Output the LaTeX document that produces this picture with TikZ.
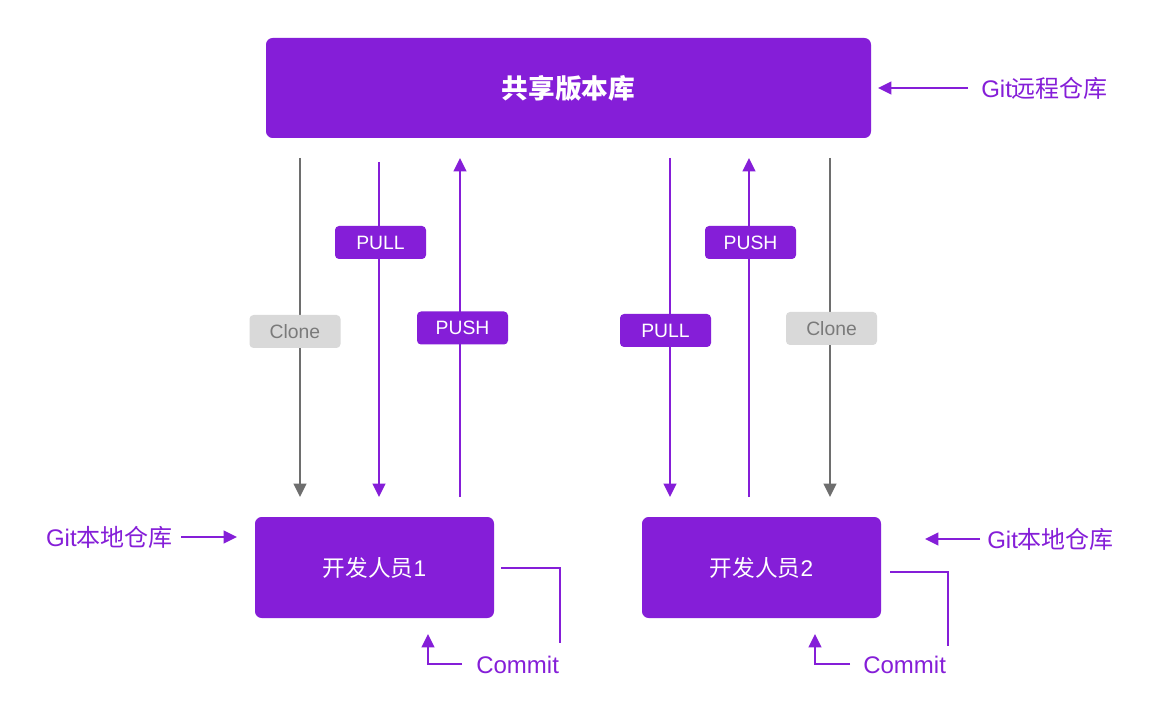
\documentclass[tikz,border=0pt]{standalone}
\usepackage{fontspec}
\setmainfont{Liberation Sans}
\newfontfamily\cjk{Noto Sans CJK SC}
\usetikzlibrary{arrows.meta}
\definecolor{pur}{HTML}{851ED8}
\definecolor{gline}{HTML}{6E6E6E}
\definecolor{gbox}{HTML}{D9D9D9}
\definecolor{gtext}{HTML}{7A7A7A}
\tikzset{
  bigbox/.style={fill=pur, rounded corners=5pt, text=white, font=\fontsize{20}{22}\selectfont\cjk\bfseries, inner sep=0pt},
  devbox/.style={fill=pur, rounded corners=5pt, text=white, minimum width=179.25pt, minimum height=75.75pt, font=\fontsize{17}{19}\selectfont, inner sep=0pt},
  tagp/.style={fill=pur, rounded corners=3pt, text=white, minimum width=68.25pt, minimum height=24.75pt, font=\fontsize{14.5}{16}\selectfont, inner sep=0pt},
  tagg/.style={fill=gbox, rounded corners=3pt, text=gtext, minimum width=68.25pt, minimum height=24.75pt, font=\fontsize{14.5}{16}\selectfont, inner sep=0pt},
  plink/.style={draw=pur, line width=1.4pt, -{Triangle[length=10pt,width=9.5pt]}},
  glink/.style={draw=gline, line width=1.4pt, -{Triangle[length=10pt,width=9.5pt]}},
  pline/.style={draw=pur, line width=1.4pt},
  note/.style={text=pur, font=\fontsize{18}{20}\selectfont, inner sep=0pt},
}
\begin{document}
\begin{tikzpicture}[x=0.75pt,y=-0.75pt]
\useasboundingbox[fill=white] (0,0) rectangle (1149,716);
% main boxes
\node[bigbox, minimum width=453.75pt, minimum height=75pt] (repo) at (568.5,88) {共享版本库};
\node[devbox] (dev1) at (374.5,567.5) {{\cjk 开发人员}1};
\node[devbox] (dev2) at (761.5,567.5) {{\cjk 开发人员}2};
% coordinates for vertical connectors
\coordinate (c1t) at (300,158); \coordinate (c1b) at (300,497);
\coordinate (l1t) at (379,162); \coordinate (l1b) at (379,497);
\coordinate (p1b) at (460,497); \coordinate (p1t) at (460,158);
\coordinate (l2t) at (670,158); \coordinate (l2b) at (670,497);
\coordinate (p2b) at (749,497); \coordinate (p2t) at (749,158);
\coordinate (c2t) at (830,158); \coordinate (c2b) at (830,497);
\draw[glink] (c1t) -- (c1b);
\draw[plink] (l1t) -- (l1b);
\draw[plink] (p1b) -- (p1t);
\draw[plink] (l2t) -- (l2b);
\draw[plink] (p2b) -- (p2t);
\draw[glink] (c2t) -- (c2b);
% tags
\node[tagg] (clone1) at (295,331.5) {Clone};
\node[tagp] (pull1) at (380.5,242.5) {PULL};
\node[tagp] (push1) at (462.5,328) {PUSH};
\node[tagp] (pull2) at (665.5,330.5) {PULL};
\node[tagp] (push2) at (750.5,242.5) {PUSH};
\node[tagg] (clone2) at (831.5,328.5) {Clone};
% side notes
\node[note, anchor=west] (remote) at (981,88) {Git{\cjk 远程仓库}};
\coordinate (remA) at (968,88); \coordinate (remB) at (878,88);
\draw[plink] (remA) -- (remB);
\node[note, anchor=east] (local1) at (173,537) {Git{\cjk 本地仓库}};
\coordinate (loc1A) at (181,537); \coordinate (loc1B) at (237,537);
\draw[plink] (loc1A) -- (loc1B);
\node[note, anchor=west] (local2) at (987,539) {Git{\cjk 本地仓库}};
\coordinate (loc2A) at (980,539); \coordinate (loc2B) at (925,539);
\draw[plink] (loc2A) -- (loc2B);
% commit loops
\node[note, anchor=west] (commit1) at (476,665) {Commit};
\coordinate (m1a) at (501,568); \coordinate (m1b) at (560,568); \coordinate (m1c) at (560,643);
\draw[pline] (m1a) -- (m1b) -- (m1c);
\coordinate (n1a) at (462,664); \coordinate (n1b) at (428,664); \coordinate (n1c) at (428,634);
\draw[plink] (n1a) -- (n1b) -- (n1c);
\node[note, anchor=west] (commit2) at (863,665) {Commit};
\coordinate (m2a) at (890,572); \coordinate (m2b) at (948,572); \coordinate (m2c) at (948,646);
\draw[pline] (m2a) -- (m2b) -- (m2c);
\coordinate (n2a) at (850,664); \coordinate (n2b) at (815,664); \coordinate (n2c) at (815,634);
\draw[plink] (n2a) -- (n2b) -- (n2c);
\end{tikzpicture}
\end{document}
